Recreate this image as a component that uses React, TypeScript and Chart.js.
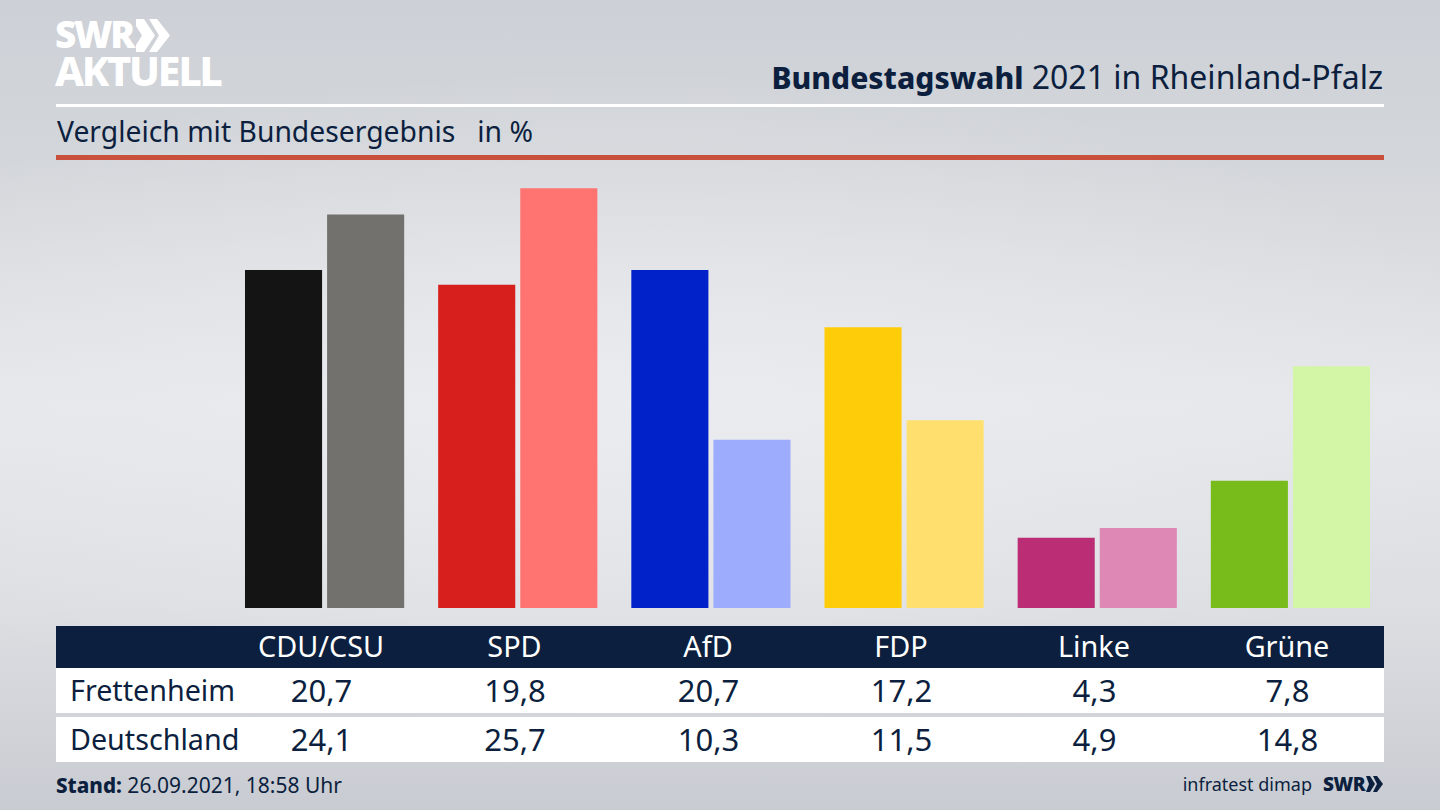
import React, { useEffect, useRef } from "react";
import { Chart, registerables } from "chart.js";

Chart.register(...registerables);

const parties = ["CDU/CSU", "SPD", "AfD", "FDP", "Linke", "Grüne"];
const frettenheim = [20.7, 19.8, 20.7, 17.2, 4.3, 7.8];
const deutschland = [24.1, 25.7, 10.3, 11.5, 4.9, 14.8];
const strongColors = ["#141414", "#d71f1d", "#0022c8", "#ffcc0a", "#bb2e75", "#78bc1b"];
const lightColors = ["#72716e", "#ff7470", "#9eacfd", "#ffe06f", "#de88b6", "#d3f5a6"];
const rowNames = ["Frettenheim", "Deutschland"];
const fmt = (v: number) => v.toFixed(1).replace(".", ",");

const NAVY = "#0c1f3e";
const FONT = '"Noto Sans", sans-serif';
const colX = [321, 514.5, 708, 901, 1094, 1287];

function Text({ x, y, size, children, weight = 400, color = NAVY, align = "left", spacing = 0 }: any) {
  const style: React.CSSProperties = {
    position: "absolute",
    top: y,
    fontFamily: FONT,
    fontSize: size,
    fontWeight: weight,
    color,
    lineHeight: "1",
    whiteSpace: "pre",
    letterSpacing: spacing,
  };
  if (align === "left") style.left = x;
  if (align === "right") style.right = 1440 - x;
  if (align === "center") {
    style.left = x;
    style.transform = "translateX(-50%)";
  }
  return <div style={style}>{children}</div>;
}

function Box({ x, y, w, h, color }: any) {
  return <div style={{ position: "absolute", left: x, top: y, width: w, height: h, background: color }} />;
}

export default function App() {
  const ref = useRef<HTMLCanvasElement>(null);
  useEffect(() => {
    document.body.style.margin = "0";
    const chart = new Chart(ref.current!, {
      type: "bar",
      data: {
        labels: parties,
        datasets: [
          { label: rowNames[0], data: frettenheim, backgroundColor: strongColors },
          { label: rowNames[1], data: deutschland, backgroundColor: lightColors },
        ],
      },
      options: {
        animation: false,
        responsive: false,
        devicePixelRatio: 1,
        layout: { padding: 0 },
        datasets: { bar: { categoryPercentage: 0.85, barPercentage: 0.939 } },
        plugins: { legend: { display: false }, tooltip: { enabled: false } },
        scales: {
          x: { display: false },
          y: { display: false, min: 0, max: 26.7 },
        },
      },
    });
    return () => chart.destroy();
  }, []);

  return (
    <div
      style={{
        position: "relative",
        width: 1440,
        height: 810,
        overflow: "hidden",
        background:
          "radial-gradient(ellipse 900px 330px at 620px 400px, rgba(236,237,240,0.75), rgba(236,237,240,0) 100%), linear-gradient(180deg, #cdd0d6 0%, #d3d6da 20%, #e6e7ea 50%, #dcdee2 75%, #c8cbd1 100%)",
      }}
    >
      <Text x={55} y={15} size={37} weight={900} color="#ffffff" spacing={-2.3}>SWR</Text>
      <svg style={{ position: "absolute", left: 136, top: 19 }} width={36} height={34}>
        <polygon points="0,0 8,0 19,16.5 8,33 0,33 0,26 6,16.5 0,7" fill="#ffffff" />
        <polygon points="13,0 21,0 34,16.5 21,33 13,33 23,16.5" fill="#ffffff" />
      </svg>
      <Text x={55} y={50} size={41} weight={800} color="#ffffff" spacing={-2.2}>AKTUELL</Text>

      <div style={{ position: "absolute", right: 57, top: 61, fontFamily: FONT, fontSize: 32, lineHeight: "1", color: NAVY, whiteSpace: "pre" }}>
        <span style={{ fontWeight: 800, fontSize: 30 }}>Bundestagswahl</span> 2021 in Rheinland-Pfalz
      </div>
      <Box x={56} y={104} w={1328} h={3} color="#ffffff" />
      <Text x={57} y={117} size={28.3}>Vergleich mit Bundesergebnis   in %</Text>
      <Box x={56} y={155} w={1328} h={5} color="#c8503c" />

      <canvas ref={ref} width={1159} height={436} style={{ position: "absolute", left: 228, top: 172, width: 1159, height: 436 }} />

      <Box x={56} y={626} w={1328} h={42} color={NAVY} />
      <Box x={56} y={668} w={1328} h={45} color="#ffffff" />
      <Box x={56} y={717} w={1328} h={45} color="#ffffff" />
      {parties.map((p, i) => (
        <Text key={p} x={colX[i]} y={632} size={28.8} color="#ffffff" align="center">{p}</Text>
      ))}
      <Text x={70} y={676} size={28.7}>{rowNames[0]}</Text>
      <Text x={70} y={725} size={28.7}>{rowNames[1]}</Text>
      {frettenheim.map((v, i) => (
        <Text key={i} x={colX[i] + 0.5} y={675} size={31} align="center">{fmt(v)}</Text>
      ))}
      {deutschland.map((v, i) => (
        <Text key={i} x={colX[i] + 0.5} y={724} size={31} align="center">{fmt(v)}</Text>
      ))}

      <div style={{ position: "absolute", left: 56, top: 775, fontFamily: FONT, fontSize: 21, lineHeight: "1", color: NAVY, whiteSpace: "pre" }}>
        <span style={{ fontWeight: 800, fontSize: 20.6 }}>Stand:</span> 26.09.2021, 18:58 Uhr
      </div>
      <Text x={1312} y={775} size={18} align="right">infratest dimap</Text>
      <Text x={1323} y={775} size={19} weight={900} spacing={-0.5}>SWR</Text>
      <svg style={{ position: "absolute", left: 1366, top: 776 }} width={18} height={17}>
        <polygon points="0,0 4,0 9,8 4,16 0,16 3,8" fill={NAVY} />
        <polygon points="7,0 11,0 17,8 11,16 7,16 11,8" fill={NAVY} />
      </svg>
    </div>
  );
}
